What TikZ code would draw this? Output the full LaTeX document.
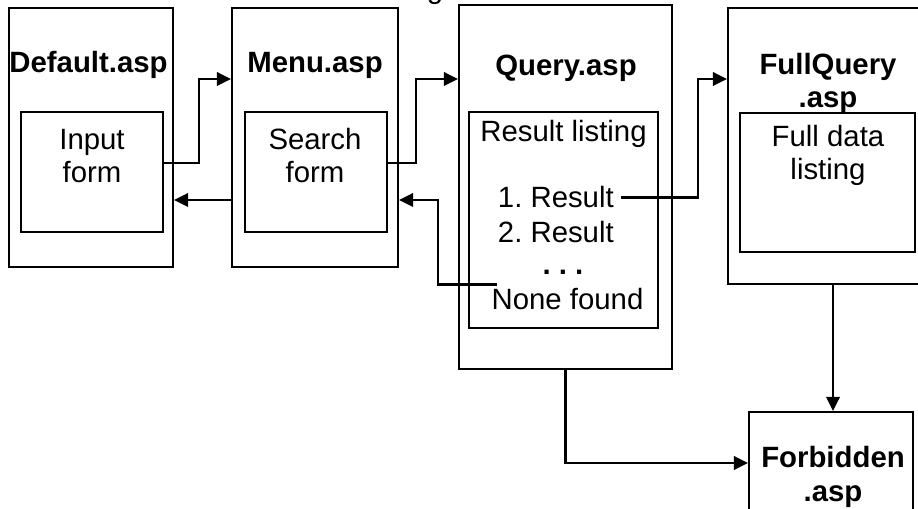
\documentclass[tikz,border=0pt]{standalone}
\usepackage{fontspec}
\setmainfont{Liberation Sans}
\usetikzlibrary{arrows.meta}

\newcommand{\pagefont}{\fontsize{16.7}{18.8}\selectfont\frenchspacing}
\tikzset{
  box/.style={draw, inner sep=0pt},
  txt/.style={font=\pagefont, align=center, anchor=base},
  ttl/.style={font=\pagefont\bfseries, align=center, anchor=base}
}

\begin{document}
\begin{tikzpicture}[>={Triangle[length=0.28cm,width=0.27cm]}, line width=1.25pt]
\useasboundingbox (0,0) rectangle (18.36,10.16);

% pages
\node[box,minimum width=3.28cm,minimum height=5.18cm] (default) at (1.82,7.41) {};
\node[box,minimum width=3.32cm,minimum height=5.18cm] (menu) at (6.3,7.41) {};
\node[box,minimum width=4.26cm,minimum height=7.28cm] (query) at (11.31,6.42) {};
\node[box,minimum width=4.2cm,minimum height=5.52cm] (fullq) at (16.66,7.24) {};
\node[box,minimum width=3.28cm,minimum height=2.04cm] (forbidden) at (16.62,0.9) {};

% forms inside the pages
\node[box,minimum width=2.84cm,minimum height=2.4cm] (inform) at (1.84,6.72) {};
\node[box,minimum width=2.84cm,minimum height=2.4cm] (search) at (6.32,6.72) {};
\node[box,minimum width=3.78cm,minimum height=4.32cm] (result) at (11.27,5.76) {};
\node[box,minimum width=3.5cm,minimum height=2.78cm] (fulldata) at (16.55,6.51) {};

% titles (two-line nodes sit on their last line)
\node[ttl] (defaultname) at (1.77,8.7) {Default.asp};
\node[ttl] (menuname) at (6.3,8.7) {Menu.asp};
\node[ttl] (queryname) at (11.32,8.64) {Query.asp};
\node[ttl] (fullqname) at (16.56,8.0) {FullQuery\\.asp};
\node[ttl] (forbiddenname) at (16.66,0.14) {Forbidden\\.asp};
\node[txt] (caption) at (8.7,10.18) {g};

% texts
\node[txt] (informtxt) at (1.84,6.5) {Input\\form};
\node[txt] (searchtxt) at (6.3,6.5) {Search\\form};
\node[txt] (resulttxt) at (11.27,7.32) {Result listing};
\node[txt,anchor=base west] (list1) at (9.82,6.0) {1. Result};
\node[txt,anchor=base west] (list2) at (9.82,5.3) {2. Result};
\node[ttl] (dots) at (11.26,4.66) {. . .};
\node[txt] (none) at (11.35,3.96) {None found};
\node[txt] (fulldatatxt) at (16.56,6.56) {Full data\\listing};

% links
\draw[->] ([yshift=0.18cm]inform.east) -- ++(0.7,0) |- ([yshift=1.17cm]menu.west);
\draw[->] ([yshift=-1.25cm]menu.west) -- ([yshift=-1.25cm]default.east);
\draw[->] ([yshift=0.18cm]search.east) -- ++(0.56,0) |- ([yshift=2.16cm]query.west);
\draw[->] ([xshift=0.25cm,yshift=0.3cm]none.west) -- ++(-1.19,0) |- ([yshift=-1.25cm]menu.east);
\draw[->] (list1.east) -- ++(1.55,0) |- ([yshift=1.34cm]fullq.west);
\draw[->] (fullq.south) -- (fullq.south |- forbidden.north);
\draw[->] (query.south) |- (forbidden.west);

\end{tikzpicture}
\end{document}
